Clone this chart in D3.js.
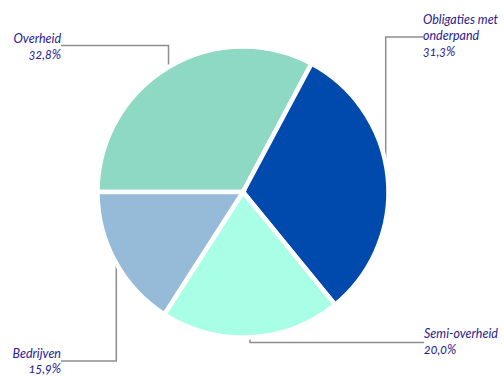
<!DOCTYPE html>
<html>
<head>
<meta charset="utf-8">
<script src="https://cdn.jsdelivr.net/npm/d3@7"></script>
<style>
  html, body { margin: 0; padding: 0; background: #fff; }
  svg { display: block; }
  .lbl { font-family: Lato, "Open Sans", sans-serif; font-style: italic; font-size: 12.5px; fill: #2a2090; font-variant-numeric: oldstyle-nums; }
</style>
</head>
<body>
<svg id="chart" width="504" height="377"></svg>
<script>
// Portfolio composition by issuer type (share in %)
const categories = ["Overheid", "Obligaties met onderpand", "Semi-overheid", "Bedrijven"];
const shares = [32.8, 31.3, 20.0, 15.9];
const valueLabels = ["32,8%", "31,3%", "20,0%", "15,9%"];
const colors = ["#8ed9c4", "#004aad", "#a8ffe6", "#96bbd9"];

const svg = d3.select("#chart");
const cx = 243, cy = 192, radius = 145.5;

const pie = d3.pie().sort(null).value(d => d.v)
  .startAngle(-Math.PI / 2).endAngle(1.5 * Math.PI);
const arcs = pie(categories.map((c, i) => ({ c, v: shares[i], col: colors[i], lab: valueLabels[i] })));
const arc = d3.arc().innerRadius(0).outerRadius(radius);

// leader lines (drawn beneath the pie)
const lineColor = "#8e8e8e";
const leaders = [
  [[61, 45.5], [168.5, 45.5], [168.5, 90]],
  [[423, 37], [385.7, 37], [385.7, 192]],
  [[424, 342.5], [250, 342.5], [250, 320]],
  [[61, 361], [116.3, 361], [116.3, 250]]
];
svg.append("g").selectAll("path").data(leaders).join("path")
  .attr("d", d3.line())
  .attr("fill", "none")
  .attr("stroke", lineColor)
  .attr("stroke-width", 1.5);

svg.append("g").attr("transform", `translate(${cx},${cy})`)
  .selectAll("path").data(arcs).join("path")
  .attr("d", arc)
  .attr("fill", d => d.data.col)
  .attr("stroke", "#fff")
  .attr("stroke-width", 4.5)
  .attr("stroke-linejoin", "miter");

// labels
const labels = [
  { lines: ["Overheid", valueLabels[0]], x: 61, y: 43, anchor: "end" },
  { lines: ["Obligaties met", "onderpand", valueLabels[1]], x: 423, y: 24, anchor: "start" },
  { lines: ["Semi-overheid", valueLabels[2]], x: 424, y: 338, anchor: "start" },
  { lines: ["Bedrijven", valueLabels[3]], x: 61, y: 357.5, anchor: "end" }
];
const lg = svg.append("g");
labels.forEach(l => {
  const t = lg.append("text").attr("class", "lbl")
    .attr("x", l.x).attr("y", l.y).attr("text-anchor", l.anchor);
  l.lines.forEach((s, i) => {
    t.append("tspan").attr("x", l.x).attr("dy", i === 0 ? 0 : 15.8).text(s);
  });
});
</script>
</body>
</html>
